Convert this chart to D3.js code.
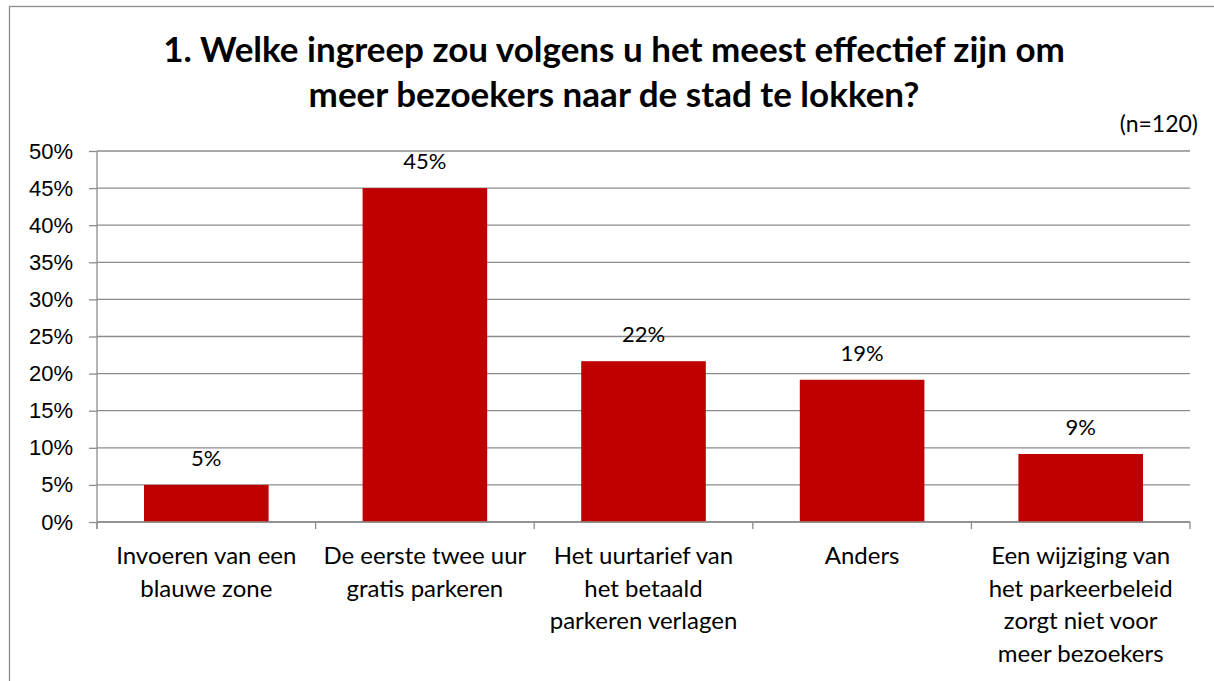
<!DOCTYPE html>
<html lang="nl">
<head>
  <meta charset="UTF-8">
  <title>Parkeren enquête</title>
  <style>
    body { margin: 0; background: #fff; }
    svg { display: block; font-family: "Lato", "Open Sans", sans-serif; }
    .grid line { stroke: #8c8c8c; stroke-width: 1.3; }
    .axis path, .axis line { stroke: #8c8c8c; stroke-width: 1.3; }
    .axis text { fill: #000; }
  </style>
</head>
<body>
  <div class="container"></div>
  <script src="https://d3js.org/d3.v7.min.js"></script>
  <script>
    // data
    let categories = [
      "Invoeren van een blauwe zone",
      "De eerste twee uur gratis parkeren",
      "Het uurtarief van het betaald parkeren verlagen",
      "Anders",
      "Een wijziging van het parkeerbeleid zorgt niet voor meer bezoekers"
    ]
    let labelLines = [
      ["Invoeren van een", "blauwe zone"],
      ["De eerste twee uur", "gratis parkeren"],
      ["Het uurtarief van", "het betaald", "parkeren verlagen"],
      ["Anders"],
      ["Een wijziging van", "het parkeerbeleid", "zorgt niet voor", "meer bezoekers"]
    ]
    let values = [0.05, 0.45, 0.2167, 0.1917, 0.0917]
    let yTicks = [0, 0.05, 0.1, 0.15, 0.2, 0.25, 0.3, 0.35, 0.4, 0.45, 0.5]
    let titleLines = ["1. Welke ingreep zou volgens u het meest effectief zijn om", "meer bezoekers naar de stad te lokken?"]
    let note = "(n=120)"

    let W = 1214, H = 681
    let m = { left: 97, right: 24, top: 151, bottom: 159 }
    let w = W - m.left - m.right
    let h = H - m.top - m.bottom

    let svgParent = d3.select('.container').append('svg')
      .attr('width', W)
      .attr('height', H)

    // chart frame
    svgParent.append('rect')
      .attr('x', 9.5).attr('y', 6.5)
      .attr('width', 1220).attr('height', 700)
      .attr('fill', '#fff')
      .attr('stroke', '#8c8c8c')
      .attr('stroke-width', 1.3)

    // title
    let title = svgParent.append('text')
      .attr('text-anchor', 'middle')
      .attr('font-weight', 'bold')
      .attr('font-size', 35)
    title.selectAll('tspan')
      .data(titleLines)
      .enter()
      .append('tspan')
      .attr('x', 614)
      .attr('y', (d, i) => 62 + i * 45)
      .text(d => d)

    svgParent.append('text')
      .attr('x', 1198)
      .attr('y', 132)
      .attr('text-anchor', 'end')
      .attr('font-size', 23)
      .text(note)

    let svg = svgParent.append('g')
      .attr('transform', `translate(${m.left}, ${m.top})`)

    let xScale = d3.scaleBand()
      .domain(categories)
      .range([0, w])
      .paddingInner(0.43)
      .paddingOuter(0.215)

    let yScale = d3.scaleLinear()
      .domain([0, 0.5])
      .range([h, 0])

    // gridlines
    svg.append('g')
      .attr('class', 'grid')
      .selectAll('line')
      .data(yTicks)
      .enter()
      .append('line')
      .attr('x1', 0)
      .attr('x2', w)
      .attr('y1', d => yScale(d))
      .attr('y2', d => yScale(d))

    // y axis
    let yAxis = d3.axisLeft(yScale)
      .tickValues(yTicks)
      .tickFormat(d3.format('.0%'))
      .tickSize(8)
      .tickPadding(16)
    let gy = svg.append('g')
      .attr('class', 'axis')
      .call(yAxis)
    gy.select('.domain').attr('d', `M0,0V${h + 7}`)
    gy.selectAll('text').attr('font-size', 22).attr('font-family', 'inherit')

    // bars
    svg.selectAll('.bar')
      .data(values)
      .enter()
      .append('rect')
      .attr('class', 'bar')
      .attr('x', (d, i) => xScale(categories[i]))
      .attr('y', d => yScale(d))
      .attr('width', xScale.bandwidth())
      .attr('height', d => h - yScale(d))
      .attr('fill', '#c00000')

    // value labels
    svg.selectAll('.val')
      .data(values)
      .enter()
      .append('text')
      .attr('class', 'val')
      .attr('x', (d, i) => xScale(categories[i]) + xScale.bandwidth() / 2)
      .attr('y', d => yScale(d) - 19)
      .attr('text-anchor', 'middle')
      .attr('font-size', 22)
      .text(d => d3.format('.0%')(d))

    // x axis line + category boundary ticks
    let gx = svg.append('g')
      .attr('class', 'axis')
      .attr('transform', `translate(0, ${h})`)
    gx.append('line')
      .attr('x1', 0).attr('x2', w)
    gx.selectAll('.tick')
      .data(d3.range(categories.length + 1))
      .enter()
      .append('line')
      .attr('x1', i => i * xScale.step())
      .attr('x2', i => i * xScale.step())
      .attr('y1', 0)
      .attr('y2', 7)

    // category labels
    let lab = gx.selectAll('.cat')
      .data(categories)
      .enter()
      .append('text')
      .attr('class', 'cat')
      .attr('text-anchor', 'middle')
      .attr('font-size', 24)
    lab.selectAll('tspan')
      .data((d, i) => labelLines[i].map(t => ({ t: t, c: d })))
      .enter()
      .append('tspan')
      .attr('x', d => xScale(d.c) + xScale.bandwidth() / 2)
      .attr('y', (d, j) => 42 + j * 32.5)
      .text(d => d.t)
  </script>
</body>
</html>
